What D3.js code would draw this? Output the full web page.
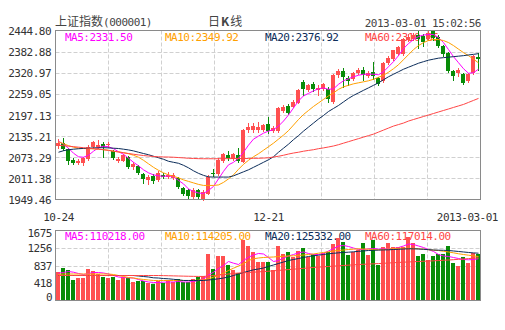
<!DOCTYPE html>
<html><head><meta charset="utf-8">
<script src="https://cdn.jsdelivr.net/npm/d3@7"></script>
<style>
body{margin:0;background:#fff;}
svg text{font-family:"DejaVu Sans Mono","Liberation Mono",monospace;font-size:11px;letter-spacing:-0.5px;}
</style></head><body>
<svg id="c" width="505" height="330"></svg>
<script>
const dates = ["10-24","10-25","10-26","10-29","10-30","10-31",
"11-01","11-02","11-05","11-06","11-07","11-08","11-09","11-12","11-13","11-14","11-15","11-16","11-19","11-20","11-21","11-22","11-23","11-26","11-27","11-28","11-29","11-30",
"12-03","12-04","12-05","12-06","12-07","12-10","12-11","12-12","12-13","12-14","12-17","12-18","12-19","12-20","12-21","12-24","12-25","12-26","12-27","12-28","12-31",
"01-04","01-07","01-08","01-09","01-10","01-11","01-14","01-15","01-16","01-17","01-18","01-21","01-22","01-23","01-24","01-25","01-28","01-29","01-30","01-31",
"02-01","02-04","02-05","02-06","02-07","02-08","02-18","02-19","02-20","02-21","02-22","02-25","02-26","02-27","02-28",
"03-01"];
const open = [2105.7,2114.6,2096.9,2064.4,2057.1,2055.6,2067.4,2102.8,2104.2,2113.1,2108.7,2091.0,2063.0,2063.0,2073.3,2045.3,2046.8,2025.2,2005.5,2017.3,2005.5,2020.2,2014.3,2012.9,2011.4,1981.9,1976.0,1956.2,1976.0,1951.5,1966.2,2027.6,2023.2,2061.5,2079.2,2067.4,2079.2,2059.4,2152.0,2152.9,2154.4,2152.9,2170.6,2151.4,2150.8,2209.8,2224.5,2221.6,2233.4,2293.5,2270.8,2288.5,2270.8,2272.9,2272.9,2234.6,2313.0,2324.8,2305.3,2302.4,2320.1,2327.8,2312.1,2323.9,2304.8,2296.5,2350.4,2360.2,2374.9,2377.0,2418.3,2421.2,2433.0,2430.1,2421.2,2441.9,2427.1,2400.6,2379.9,2326.0,2321.0,2316.0,2296.5,2321.0,2368.1];
const high = [2126.4,2130.8,2101.3,2070.3,2067.4,2073.3,2108.7,2120.5,2123.4,2119.0,2117.5,2093.9,2073.3,2082.1,2076.2,2058.5,2049.7,2027.6,2020.2,2023.2,2032.0,2026.1,2029.1,2026.1,2014.3,1984.8,1978.9,1981.9,1978.9,1976.0,2020.2,2037.9,2070.3,2085.1,2091.0,2085.1,2099.8,2155.8,2173.5,2173.5,2176.5,2170.6,2191.2,2164.7,2219.2,2226.6,2228.1,2239.9,2273.8,2298.9,2288.5,2292.9,2285.6,2291.5,2279.7,2316.5,2332.8,2335.7,2310.6,2323.9,2334.2,2338.6,2326.9,2353.4,2309.2,2353.4,2369.6,2388.8,2400.6,2424.2,2436.0,2438.9,2441.9,2436.0,2441.9,2444.8,2433.0,2403.5,2382.9,2329.8,2335.7,2321.0,2321.0,2374.0,2379.9];
const low = [2099.8,2093.9,2054.1,2052.6,2052.6,2049.7,2064.4,2099.8,2099.8,2074.7,2104.2,2067.4,2060.0,2061.5,2040.9,2037.9,2023.2,1997.5,1993.7,1996.6,2002.5,2011.4,2011.4,2009.9,1981.9,1962.7,1955.3,1953.9,1952.4,1949.46,1964.2,2017.3,2020.2,2058.5,2064.4,2064.4,2058.5,2058.5,2147.0,2148.5,2147.0,2149.9,2144.0,2148.5,2148.5,2206.0,2201.5,2219.2,2231.0,2256.1,2266.4,2266.4,2256.1,2269.3,2235.5,2232.5,2309.2,2280.6,2285.6,2298.9,2316.5,2300.3,2307.7,2303.3,2284.1,2292.9,2347.5,2357.8,2372.6,2374.0,2415.3,2418.3,2394.7,2400.6,2418.3,2418.3,2397.6,2371.1,2323.9,2300.3,2312.1,2288.5,2292.9,2318.0,2329.8];
const close = [2116.0,2096.9,2061.5,2057.1,2063.0,2070.3,2102.8,2117.5,2110.2,2104.2,2113.1,2070.3,2068.9,2079.2,2045.3,2054.1,2026.1,2008.4,2014.3,2002.5,2027.6,2015.8,2020.2,2021.7,1985.7,1966.2,1959.2,1977.5,1956.2,1971.0,2015.2,2023.2,2064.4,2082.1,2070.3,2082.1,2061.5,2152.9,2162.6,2164.7,2161.7,2167.6,2150.8,2160.3,2216.9,2220.7,2203.9,2236.3,2270.8,2273.8,2285.6,2273.8,2276.7,2287.6,2243.4,2313.0,2326.9,2309.2,2298.2,2320.1,2329.8,2313.0,2321.0,2310.6,2288.5,2350.4,2365.2,2386.7,2396.7,2421.2,2427.1,2433.0,2419.7,2412.4,2438.9,2424.2,2400.6,2375.5,2326.0,2311.2,2329.8,2291.5,2316.0,2369.6,2360.2];
const volume = [678,774,718,479,542,542,742,694,638,574,542,574,502,558,542,439,463,463,423,383,463,423,479,439,518,439,439,518,558,582,1101,742,1053,1053,838,718,654,1452,1316,1156,917,917,933,718,1300,1101,1172,1037,1180,1260,1037,1101,1053,1133,1156,1356,1500,1396,1077,1156,1197,1372,1077,1452,853,1292,1372,1276,1276,1276,1531,1372,1053,1117,973,1053,1117,1117,1316,893,814,1037,893,1141,1101];
const ma5 = [2120.5,2111.6,2099.8,2085.1,2074.7,2073.3,2079.2,2091.0,2101.3,2105.7,2104.2,2098.3,2089.5,2082.1,2070.3,2058.5,2048.2,2036.5,2027.6,2021.7,2018.8,2017.3,2018.8,2015.8,2005.5,1995.2,1980.4,1973.0,1968.6,1967.1,1976.0,1987.8,2009.9,2032.0,2051.1,2058.5,2070.3,2088.0,2108.7,2126.4,2135.2,2144.0,2149.9,2154.3,2164.7,2179.4,2197.1,2217.8,2238.4,2253.1,2260.5,2267.9,2273.8,2276.7,2272.3,2273.8,2287.1,2297.4,2303.3,2309.2,2313.6,2316.6,2316.6,2316.6,2315.1,2323.9,2338.6,2353.4,2371.1,2391.7,2406.5,2418.3,2427.1,2431.6,2433.0,2433.0,2424.2,2409.4,2388.8,2368.1,2350.4,2332.8,2319.5,2321.0,2331.5];
const ma10 = [2118.4,2113.1,2107.2,2102.8,2099.8,2098.9,2098.3,2097.8,2096.9,2095.4,2093.9,2091.0,2088.9,2086.6,2083.6,2079.2,2073.3,2064.4,2054.1,2043.8,2035.0,2027.6,2021.7,2017.3,2012.9,2007.0,2002.5,1998.1,1993.7,1990.7,1990.7,1990.7,1992.2,1999.6,2009.9,2021.7,2037.9,2052.6,2064.4,2074.8,2083.6,2093.9,2104.2,2114.6,2126.4,2138.2,2151.4,2167.6,2183.9,2198.6,2210.4,2222.2,2232.5,2242.8,2253.1,2262.0,2272.3,2279.7,2284.1,2288.5,2291.5,2294.4,2297.4,2301.8,2307.7,2313.6,2322.5,2332.8,2344.5,2359.3,2374.0,2388.8,2400.6,2409.4,2415.3,2418.3,2418.3,2415.3,2409.4,2400.6,2390.2,2379.9,2371.1,2360.8,2349.9];
const ma20 = [2088.0,2092.4,2095.4,2096.9,2098.3,2099.2,2099.8,2100.7,2101.3,2101.3,2100.7,2099.8,2098.9,2096.9,2094.8,2091.9,2088.0,2084.2,2080.7,2076.2,2071.8,2067.4,2061.5,2058.5,2055.6,2049.7,2042.3,2033.5,2026.1,2020.2,2015.8,2015.2,2015.2,2015.2,2015.2,2018.8,2024.7,2030.6,2036.5,2043.8,2051.1,2058.5,2065.9,2074.8,2088.0,2099.8,2111.6,2124.9,2136.7,2149.9,2161.7,2173.5,2185.3,2195.7,2207.4,2216.3,2225.1,2235.5,2245.8,2254.6,2262.0,2269.4,2276.7,2284.1,2291.5,2300.3,2309.2,2316.6,2323.9,2331.3,2337.2,2343.0,2348.9,2353.4,2357.8,2360.8,2363.7,2365.2,2366.7,2368.1,2369.6,2371.1,2373.1,2374.9,2377.0];
const ma60 = [2108.7,2107.2,2105.7,2104.3,2102.8,2101.3,2099.8,2098.4,2096.9,2095.4,2093.3,2091.0,2088.9,2086.6,2084.2,2082.1,2080.1,2078.3,2076.8,2075.6,2074.7,2074.2,2073.9,2073.3,2072.4,2071.5,2070.3,2069.8,2069.2,2068.9,2068.9,2068.9,2068.9,2069.2,2069.2,2069.5,2069.5,2069.5,2069.8,2070.1,2070.3,2070.9,2071.8,2073.9,2076.2,2079.2,2082.7,2085.7,2088.0,2091.0,2093.3,2095.4,2098.4,2100.7,2103.4,2106.3,2110.1,2114.6,2119.0,2123.4,2127.8,2132.3,2136.7,2141.1,2147.0,2152.9,2158.8,2164.7,2169.1,2173.5,2179.4,2183.9,2188.3,2192.7,2197.1,2201.5,2206.0,2210.4,2214.8,2219.3,2223.7,2228.1,2234.0,2239.9,2245.8];
const vma5 = [653,670,694,677,646,622,646,670,670,658,634,598,562,550,543,538,503,467,443,431,431,438,443,443,455,443,443,455,479,519,610,677,766,838,933,893,861,957,1036,1089,1125,1113,1029,933,957,1017,1065,1101,1141,1161,1125,1101,1101,1125,1185,1244,1304,1316,1292,1256,1220,1220,1237,1244,1232,1232,1237,1244,1268,1304,1352,1340,1304,1268,1220,1173,1101,1065,1053,1029,1005,981,974,981,998];
const vma10 = [622,634,634,634,634,634,634,634,634,634,634,622,598,574,550,538,519,503,491,479,479,479,479,479,479,479,479,479,486,495,519,558,598,653,718,773,826,878,957,998,1017,1029,1036,1041,1053,1058,1065,1070,1077,1089,1101,1113,1132,1149,1165,1185,1197,1208,1220,1228,1237,1232,1228,1220,1213,1220,1232,1244,1252,1252,1249,1244,1237,1228,1216,1204,1197,1177,1161,1141,1118,1101,1084,1067,1053];
const vma20 = [598,598,598,598,598,598,598,598,598,598,598,598,598,598,598,598,586,574,562,543,538,526,519,507,495,479,479,479,479,479,491,503,519,538,562,598,634,670,701,735,754,778,814,850,885,921,957,981,1005,1029,1053,1070,1084,1101,1118,1129,1141,1149,1156,1165,1177,1185,1197,1201,1206,1211,1213,1220,1225,1232,1237,1237,1232,1225,1216,1208,1204,1201,1197,1185,1173,1161,1149,1139,1132];
const vma60 = [598,598,598,598,598,598,598,598,598,598,598,598,598,598,598,598,598,598,598,598,598,595,592,589,586,583,580,578,576,576,586,598,610,622,634,646,658,664,670,677,685,693,701,711,720,730,740,749,759,769,780,790,798,806,814,822,830,838,846,853,861,867,872,878,884,890,897,904,910,917,922,928,933,939,944,950,956,963,969,977,985,993,1003,1012,1022];
const priceTicks = [2444.80,2382.88,2320.97,2259.05,2197.13,2135.21,2073.29,2011.38,1949.46];
const volTicks = [1675,1256,837,418,0];
const xTickDates = ["10-24","12-21","03-01"];
const xTickLabels = ["10-24","12-21","2013-03-01"];
const maNames = ["MA5","MA10","MA20","MA60"];
const priceLegend = ["2331.50","2349.92","2376.92","2310.86"];
const volLegend = ["110218.00","114205.00","125332.00","117014.00"];
const titleName = "上证指数";
const titleCode = "(000001)";
const titleMid = ["日","K","线"];
const stamp = "2013-03-01 15:02:56";

const maColors = ["#ff00ff","#ffa000","#0c2d5a","#ff4646"];
const upColor = "#ff5050", downColor = "#088c08";
const L = 55.5, R = 480.5, T = 30.5, B = 199.5, VT = 230.5, VB = 300.5;

const svg = d3.select("#c");
const x = d3.scaleBand().domain(dates).range([L, R]).paddingInner(0.2).paddingOuter(0);
const bw = Math.round(x.bandwidth());
const xl = d => Math.round(x(d));
const xc = d => xl(d) + Math.floor(bw/2) + 0.5;
const y = d3.scaleLinear().domain([1949.46, 2444.80]).range([B, T]);
const vy = d3.scaleLinear().domain([0, 1675]).range([VB, VT]);

// title
const tt = svg.append("text").attr("x", 55).attr("y", 26).attr("fill", "#444");
tt.append("tspan").style("font-family", "'Noto Sans CJK SC'").style("font-size", "12px").style("letter-spacing", "0px").text(titleName);
tt.append("tspan").text(titleCode);
const tm = svg.append("text").attr("x", 208).attr("y", 26).attr("fill", "#444")
  .style("font-family", "'Noto Sans CJK SC'").style("font-size", "12px").style("letter-spacing", "0px");
tm.append("tspan").text(titleMid[0]);
tm.append("tspan").attr("font-weight", "bold").attr("dx", 1).text(titleMid[1]);
tm.append("tspan").attr("dx", 1).text(titleMid[2]);
svg.append("text").attr("x", 481).attr("y", 26.5).attr("text-anchor", "end").attr("fill", "#444").text(stamp);

// grids
const vgrid = d3.range(1, 8).map(k => L + Math.round(k * (R - L) / 8));
function grid(top, bot, hy) {
  svg.append("g").selectAll("line").data(hy).join("line")
    .attr("x1", L).attr("x2", R).attr("y1", d => d).attr("y2", d => d)
    .attr("stroke", "#d0d0d0").attr("stroke-dasharray", "4,2");
  svg.append("g").selectAll("line").data(vgrid).join("line")
    .attr("x1", d => d).attr("x2", d => d).attr("y1", top).attr("y2", bot)
    .attr("stroke", "#d0d0d0").attr("stroke-dasharray", "4,2");
}
grid(T, B, priceTicks.slice(1, -1).map(v => Math.round(y(v)) + 0.5));
grid(VT, VB, volTicks.slice(1, -1).map(v => Math.round(vy(v)) + 0.5));

// axis labels
svg.append("g").selectAll("text").data(priceTicks).join("text")
  .attr("x", 51).attr("y", d => y(d) + 4.5).attr("text-anchor", "end").attr("fill", "#333")
  .text(d => d.toFixed(2));
svg.append("g").selectAll("text").data(volTicks).join("text")
  .attr("x", 52).attr("y", d => Math.max(233, Math.min(296.5, vy(d))) + 4).attr("text-anchor", "end").attr("fill", "#333")
  .text(d => d);
svg.append("g").selectAll("text").data(xTickDates).join("text")
  .attr("x", (d, i) => i === xTickDates.length - 1 ? R + 17.5 : xc(d))
  .attr("y", 221).attr("text-anchor", (d, i) => i === xTickDates.length - 1 ? "end" : "middle")
  .attr("fill", "#333").text((d, i) => xTickLabels[i]);

// legends (under candles)
svg.append("g").selectAll("text").data(maNames).join("text")
  .attr("x", (d, i) => 65 + i * 100).attr("y", 41).attr("fill", (d, i) => maColors[i])
  .text((d, i) => d + ":" + priceLegend[i]);
svg.append("g").selectAll("text").data(maNames).join("text")
  .attr("x", (d, i) => 65 + i * 100).attr("y", 240).attr("fill", (d, i) => maColors[i])
  .text((d, i) => d + ":" + volLegend[i]);

const isUp = i => close[i] >= open[i];
const col = i => isUp(i) ? upColor : downColor;

// candles
const cg = svg.append("g").attr("shape-rendering", "crispEdges");
cg.selectAll("line").data(dates).join("line")
  .attr("x1", d => xc(d)).attr("x2", d => xc(d))
  .attr("y1", (d, i) => Math.round(y(high[i]))).attr("y2", (d, i) => Math.round(y(low[i])) + 1)
  .attr("stroke", (d, i) => col(i));
cg.selectAll("rect").data(dates).join("rect")
  .attr("x", d => xl(d)).attr("width", bw)
  .attr("y", (d, i) => Math.round(y(Math.max(open[i], close[i]))))
  .attr("height", (d, i) => Math.max(1, Math.round(y(Math.min(open[i], close[i]))) - Math.round(y(Math.max(open[i], close[i])))))
  .attr("fill", (d, i) => col(i));

// volume bars
svg.append("g").attr("shape-rendering", "crispEdges").selectAll("rect").data(dates).join("rect")
  .attr("x", d => xl(d)).attr("width", bw)
  .attr("y", (d, i) => Math.round(vy(volume[i])))
  .attr("height", (d, i) => Math.round(VB) - Math.round(vy(volume[i])))
  .attr("fill", (d, i) => col(i));

// MA lines
function maLine(arr, sc, color) {
  svg.append("path").datum(arr)
    .attr("d", d3.line().x((d, i) => xc(dates[i])).y(d => sc(d)))
    .attr("fill", "none").attr("stroke", color).attr("stroke-width", 1);
}
[ma5, ma10, ma20, ma60].forEach((a, k) => maLine(a, y, maColors[k]));
[vma5, vma10, vma20, vma60].forEach((a, k) => maLine(a, vy, maColors[k]));

// frames
svg.append("rect").attr("x", L).attr("y", T).attr("width", R - L).attr("height", B - T)
  .attr("fill", "none").attr("stroke", "#8a8a8a");
svg.append("rect").attr("x", L).attr("y", VT).attr("width", R - L).attr("height", VB - VT)
  .attr("fill", "none").attr("stroke", "#8a8a8a");
</script>
</body></html>
